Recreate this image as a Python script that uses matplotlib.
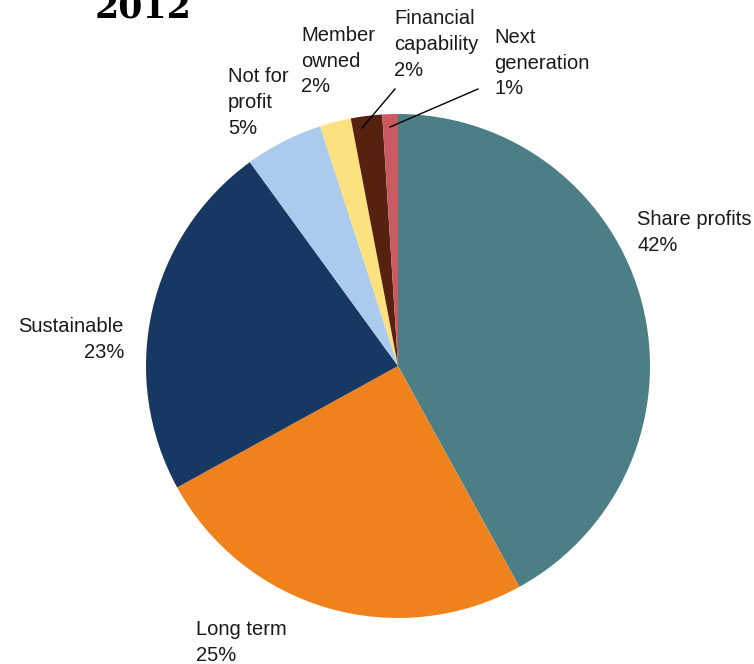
import matplotlib.pyplot as plt

labels = ["Share profits", "Long term", "Sustainable", "Not for\nprofit",
          "Member\nowned", "Financial\ncapability", "Next\ngeneration"]
values = [42, 25, 23, 5, 2, 2, 1]
colors = ["#4b7f85", "#f0821e", "#173863", "#aacbee", "#fde17e", "#55220f", "#c95a62"]

# label placement (pixel coords from top-left) and alignment
label_pos = [(637, 210, "left"), (196, 620, "left"), (124, 317, "right"),
             (228, 67, "left"), (301, 26, "left"), (394, 9, "left"), (494, 28, "left")]

W, H = 754, 664
fig = plt.figure(figsize=(W / 100, H / 100), dpi=100)
ax = fig.add_axes([0, 0, 1, 1])

ax.pie(values, colors=colors, startangle=90, counterclock=False,
       center=(398, H - 366), radius=252, frame=True,
       wedgeprops=dict(linewidth=0))
ax.set_xlim(0, W)
ax.set_ylim(0, H)
ax.set_aspect("equal")
ax.axis("off")

for lab, v, (x, y, ha) in zip(labels, values, label_pos):
    ax.text(x, H - y, lab + "\n" + str(v) + "%", ha=ha, va="top",
            fontsize=14.5, family="Liberation Sans", color="#1a1a1a", linespacing=1.45)

# leader lines for the two thin slices
ax.plot([395, 362], [H - 89, H - 128], color="black", lw=1)
ax.plot([478, 390], [H - 89, H - 127], color="black", lw=1)

ax.text(95, H - 18, "2012", ha="left", va="baseline", fontsize=25,
        fontweight="bold", family="DejaVu Serif", color="black")

fig.savefig("out.png", dpi=100)
